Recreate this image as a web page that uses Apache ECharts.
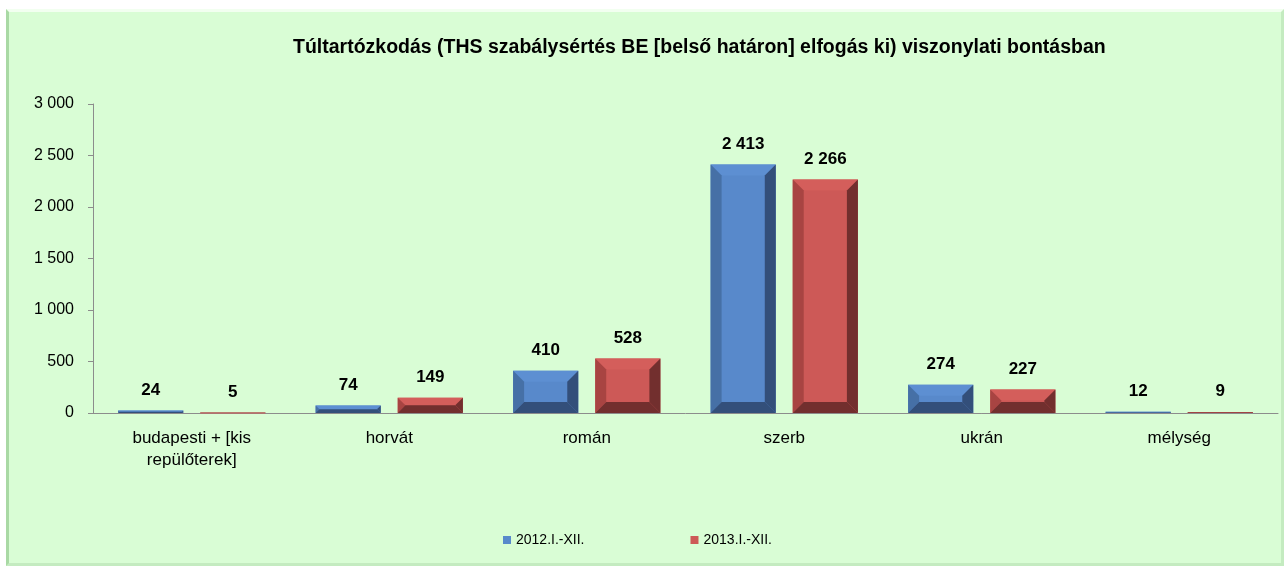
<!DOCTYPE html>
<html>
<head>
<meta charset="utf-8">
<script src="https://cdn.jsdelivr.net/npm/echarts@6/dist/echarts.min.js"></script>
<style>
    html, body {
        margin: 0;
        padding: 0;
        background: #ffffff;
    }
    #panel {
        position: absolute;
        left: 6px;
        top: 9px;
        width: 1272px;
        height: 551px;
        background: #d9fdd5;
        border-left: 3px solid #a9d9a4;
        border-top: 3px solid #f2fff0;
        border-right: 3px solid #c4ebc0;
        border-bottom: 3px solid #c4ebc0;
    }
    #chart {
        position: absolute;
        left: 0;
        top: 0;
        width: 1286px;
        height: 569px;
    }
</style>
</head>
<body>
<div id="panel"></div>
<div id="chart"></div>
<script>
const categories = ['budapesti + [kis repülőterek]', 'horvát', 'román', 'szerb', 'ukrán', 'mélység'];
const seriesNames = ['2012.I.-XII.', '2013.I.-XII.'];
const values2012 = [24, 74, 410, 2413, 274, 12];
const values2013 = [5, 149, 528, 2266, 227, 9];
const yTicks = [0, 500, 1000, 1500, 2000, 2500, 3000];

// színek: fő, felső, bal, jobb/alsó
const palettes = [
    { main: '#5889cb', top: '#5d8fd2', left: '#4670a6', dark: '#334f7a' },
    { main: '#cd5957', top: '#d45e5b', left: '#a84442', dark: '#722f2e' },
];

const fontFamily = 'Liberation Sans, Arial, sans-serif';

function fmt(v) {
    return String(v).replace(/\B(?=(\d{3})+(?!\d))/g, ' ');
}

function bevelBar(seriesIdx) {
    const pal = palettes[seriesIdx];
    return function (params, api) {
        const cat = api.value(0);
        const val = api.value(1);
        const base = api.coord([cat, 0]);
        const topPt = api.coord([cat, val]);
        const bandW = api.size([1, 0])[0];
        const barW = bandW * 0.33;
        const gap = barW * 0.26;
        const x0 = base[0] - barW - gap / 2 + seriesIdx * (barW + gap);
        const x1 = x0 + barW;
        const yb = base[1];
        const yt = topPt[1];
        const h = yb - yt;
        const b = Math.min(11, h / 2, barW / 2);

        const children = [
            { type: 'rect', shape: { x: x0, y: yt, width: barW, height: Math.max(h, 1) }, style: { fill: pal.main } },
            { type: 'polygon', shape: { points: [[x0, yt], [x1, yt], [x1 - b, yt + b], [x0 + b, yt + b]] }, style: { fill: pal.top } },
            { type: 'polygon', shape: { points: [[x0, yt], [x0 + b, yt + b], [x0 + b, yb - b], [x0, yb]] }, style: { fill: pal.left } },
            { type: 'polygon', shape: { points: [[x1, yt], [x1, yb], [x1 - b, yb - b], [x1 - b, yt + b]] }, style: { fill: pal.dark } },
            { type: 'polygon', shape: { points: [[x0, yb], [x0 + b, yb - b], [x1 - b, yb - b], [x1, yb]] }, style: { fill: pal.dark } },
            {
                type: 'text',
                style: {
                    text: fmt(val),
                    x: (x0 + x1) / 2,
                    y: yt - 12,
                    align: 'center',
                    verticalAlign: 'bottom',
                    font: 'bold 17px ' + fontFamily,
                    fill: '#000000',
                },
            },
        ];
        return { type: 'group', children: children };
    };
}

const chart = echarts.init(document.getElementById('chart'));

const option = {
    backgroundColor: 'transparent',
    textStyle: { fontFamily: fontFamily },
    title: {
        text: 'Túltartózkodás (THS szabálysértés BE [belső határon] elfogás ki) viszonylati bontásban',
        left: 288,
        top: 33,
        textStyle: {
            fontFamily: fontFamily,
            fontWeight: 'bold',
            fontSize: 19.5,
            color: '#000000',
        },
    },
    legend: {
        data: seriesNames,
        left: 498,
        top: 528,
        icon: 'rect',
        itemWidth: 8,
        itemHeight: 8,
        itemGap: 106,
        textStyle: { fontSize: 14, color: '#000000', fontFamily: fontFamily },
    },
    grid: {
        left: 93,
        right: 8,
        top: 104,
        bottom: 156,
    },
    xAxis: {
        type: 'category',
        data: categories,
        axisLine: { lineStyle: { color: '#8c8c8c', width: 1 } },
        axisTick: { show: false },
        axisLabel: {
            fontSize: 17,
            color: '#000000',
            margin: 14,
            lineHeight: 22,
            interval: 0,
            formatter: (v) => v.replace('[kis ', '[kis\n'),
        },
    },
    yAxis: {
        type: 'value',
        min: yTicks[0],
        max: yTicks[yTicks.length - 1],
        interval: 500,
        axisLine: { show: true, lineStyle: { color: '#8c8c8c', width: 1 } },
        axisTick: { show: true, length: 5, lineStyle: { color: '#8c8c8c' } },
        splitLine: { show: false },
        axisLabel: {
            fontSize: 16,
            color: '#000000',
            margin: 19,
            formatter: (v) => fmt(v),
        },
    },
    series: [
        {
            name: seriesNames[0],
            type: 'custom',
            renderItem: bevelBar(0),
            itemStyle: { color: palettes[0].main },
            data: values2012.map((v, i) => [i, v]),
            encode: { x: 0, y: 1 },
        },
        {
            name: seriesNames[1],
            type: 'custom',
            renderItem: bevelBar(1),
            itemStyle: { color: palettes[1].main },
            data: values2013.map((v, i) => [i, v]),
            encode: { x: 0, y: 1 },
        },
    ],
};

chart.setOption(option);
</script>
</body>
</html>
